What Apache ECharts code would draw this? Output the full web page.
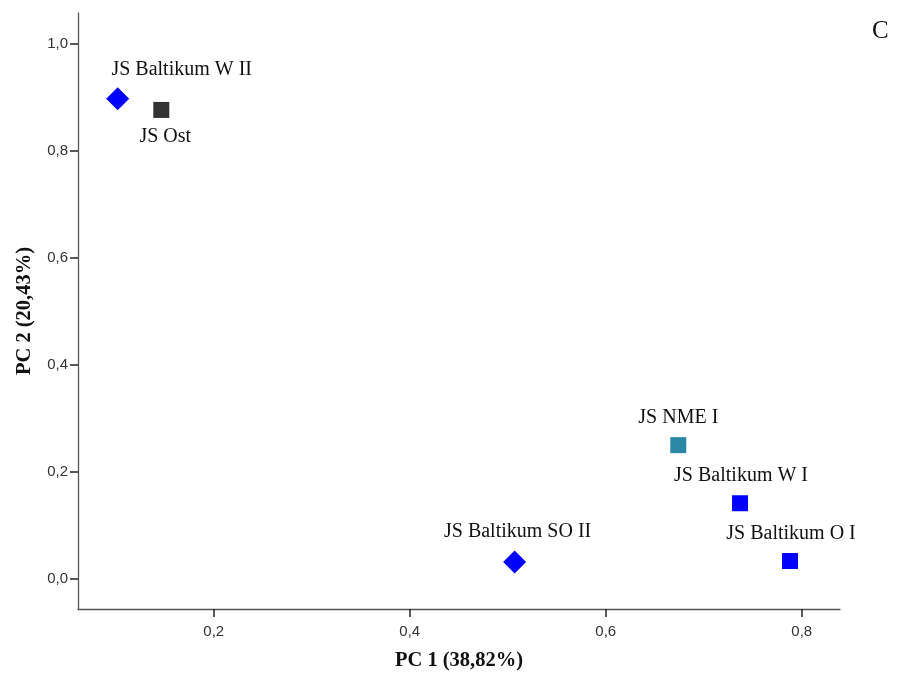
<!DOCTYPE html>
<html><head><meta charset="utf-8">
<script src="https://cdn.jsdelivr.net/npm/echarts@6/dist/echarts.min.js"></script>
<style>html,body{margin:0;padding:0;background:#fff}#c{width:901px;height:677px}</style>
</head><body><div id="c"></div>
<script>
const names = ["JS Baltikum W II","JS Ost","JS NME I","JS Baltikum W I","JS Baltikum O I","JS Baltikum SO II"];
const pc1 = [0.102, 0.1465, 0.674, 0.737, 0.788, 0.507];
const pc2 = [0.897, 0.876, 0.250, 0.1415, 0.0336, 0.032];
const xTicks = [0.2, 0.4, 0.6, 0.8];
const yTicks = [0.0, 0.2, 0.4, 0.6, 0.8, 1.0];

const styles = [
  {symbol:'diamond', size:[23,23], color:'#0000ff', pos:'top', offset:[64,2]},
  {symbol:'rect', size:[16,16], color:'#333333', pos:'bottom', offset:[4,0]},
  {symbol:'rect', size:[16,16], color:'#2a87a5', pos:'top', offset:[0,0]},
  {symbol:'rect', size:[16,16], color:'#0000ff', pos:'top', offset:[1,0]},
  {symbol:'rect', size:[16,16], color:'#0000ff', pos:'top', offset:[1,0]},
  {symbol:'diamond', size:[23,23], color:'#0000ff', pos:'top', offset:[3,0]}
];

const data = names.map((n,i)=>({
  value:[pc1[i],pc2[i]], name:n,
  symbol:styles[i].symbol, symbolSize:styles[i].size,
  itemStyle:{color:styles[i].color, opacity:1},
  label:{position:styles[i].pos, offset:styles[i].offset}
}));

const fmt = v => v.toFixed(1).replace('.', ',');
const axisCol = '#555555';
const chart = echarts.init(document.getElementById('c'));
chart.setOption({
  animation:false,
  grid:{left:78, top:13, right:61, bottom:68},
  xAxis:{type:'value', min:0.0615, max:0.839,
    name:'PC 1 (38,82%)', nameLocation:'middle', nameGap:41,
    nameTextStyle:{fontFamily:'Liberation Serif', fontWeight:'bold', fontSize:20.5, color:'#111'},
    axisLine:{show:true, onZero:false, lineStyle:{color:axisCol, width:1.3}},
    axisTick:{show:true, customValues:xTicks, length:8, lineStyle:{color:'#222', width:1.5}},
    axisLabel:{customValues:xTicks, formatter:fmt, fontFamily:'Liberation Sans', fontSize:15, color:'#333', margin:15},
    splitLine:{show:false}},
  yAxis:{type:'value', min:-0.056, max:1.057,
    name:'PC 2 (20,43%)', nameLocation:'middle', nameGap:43,
    nameTextStyle:{fontFamily:'Liberation Serif', fontWeight:'bold', fontSize:20.5, color:'#111'},
    axisLine:{show:true, onZero:false, lineStyle:{color:axisCol, width:1.3}},
    axisTick:{show:true, customValues:yTicks, length:8, lineStyle:{color:'#222', width:1.5}},
    axisLabel:{customValues:yTicks, formatter:fmt, fontFamily:'Liberation Sans', fontSize:15, color:'#333', margin:10},
    splitLine:{show:false}},
  graphic:[{type:'text', left:872, top:19, style:{text:'C', fontFamily:'Liberation Serif', fontSize:25, fill:'#111'}}],
  series:[{type:'scatter', data:data,
    emphasis:{disabled:true},
    label:{show:true, formatter:p=>p.name, distance:9, fontFamily:'Liberation Serif', fontSize:20, color:'#111'}}]
});
</script></body></html>
